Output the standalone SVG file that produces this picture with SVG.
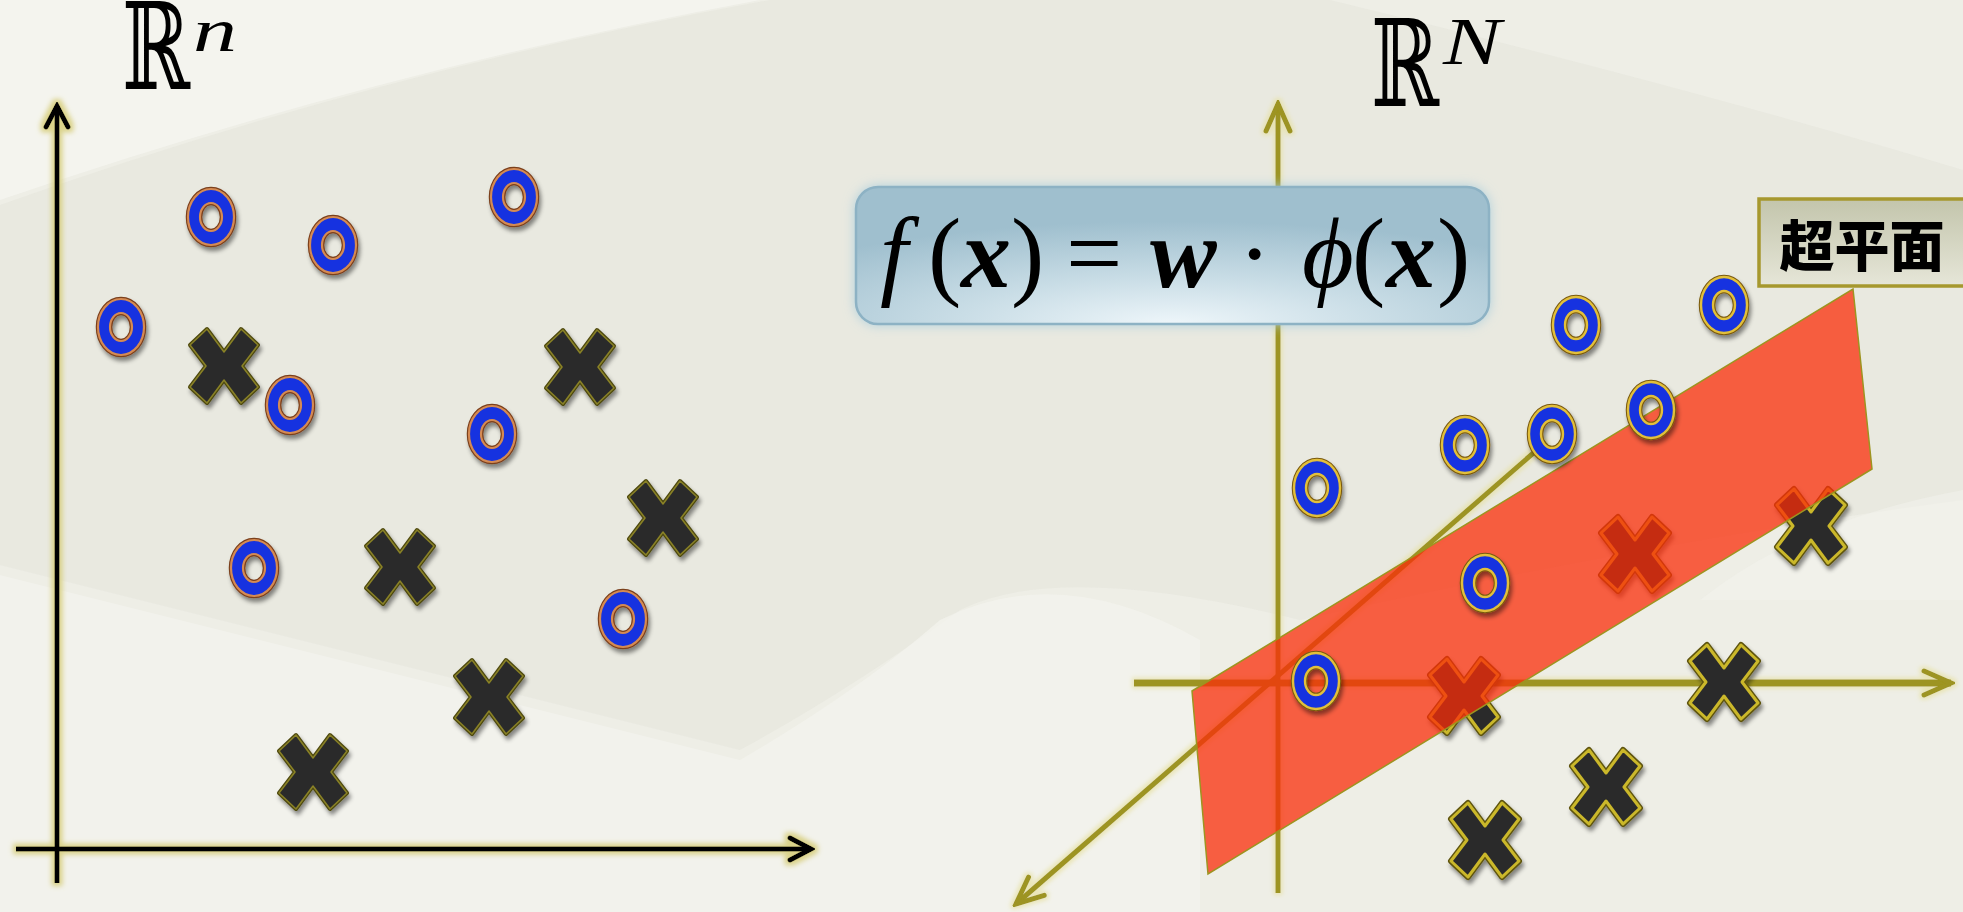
<svg xmlns="http://www.w3.org/2000/svg" xmlns:xlink="http://www.w3.org/1999/xlink" width="1963" height="912" viewBox="0 0 1963 912">
<style>
.math{font-family:"Liberation Serif","DejaVu Serif",serif;fill:#000}
.bb{font-family:"DejaVu Serif","DejaVu Sans",serif;fill:#000}
.lbl{font-family:"Noto Sans CJK SC","Noto Sans CJK JP",sans-serif;font-weight:900;fill:#000}
.axL{stroke:#000;stroke-width:5;fill:none}
.axR{stroke:#9d9420;fill:none}
</style>
<defs>
  <filter id="glowY" filterUnits="userSpaceOnUse" x="0" y="0" width="1963" height="912">
    <feMorphology in="SourceAlpha" operator="dilate" radius="3" result="d"/>
    <feGaussianBlur in="d" stdDeviation="2.5" result="b"/>
    <feFlood flood-color="#d6cd78" flood-opacity="0.85"/>
    <feComposite in2="b" operator="in" result="g"/>
    <feMerge><feMergeNode in="g"/><feMergeNode in="SourceGraphic"/></feMerge>
  </filter>
  <filter id="glowR" filterUnits="userSpaceOnUse" x="0" y="0" width="1963" height="912">
    <feMorphology in="SourceAlpha" operator="dilate" radius="2" result="d"/>
    <feGaussianBlur in="d" stdDeviation="2" result="b"/>
    <feFlood flood-color="#e6e0a0" flood-opacity="0.7"/>
    <feComposite in2="b" operator="in" result="g"/>
    <feMerge><feMergeNode in="g"/><feMergeNode in="SourceGraphic"/></feMerge>
  </filter>
  <filter id="shadow" x="-30%" y="-30%" width="170%" height="170%">
    <feDropShadow dx="2" dy="4" stdDeviation="2" flood-color="#000" flood-opacity="0.45"/>
  </filter>
  <filter id="boxglow" x="-10%" y="-20%" width="120%" height="140%">
    <feGaussianBlur in="SourceAlpha" stdDeviation="6" result="b"/>
    <feFlood flood-color="#a9cddd" flood-opacity="0.9"/>
    <feComposite in2="b" operator="in" result="g"/>
    <feMerge><feMergeNode in="g"/><feMergeNode in="SourceGraphic"/></feMerge>
  </filter>
  <radialGradient id="boxfill" cx="0.5" cy="1" r="0.75" fx="0.5" fy="1">
    <stop offset="0" stop-color="#eef6fa"/>
    <stop offset="0.45" stop-color="#c9dde6"/>
    <stop offset="1" stop-color="#9fbfce"/>
  </radialGradient>
  <linearGradient id="lblfill" x1="0" y1="0" x2="0" y2="1">
    <stop offset="0" stop-color="#c3c5ac"/>
    <stop offset="1" stop-color="#e6e6d8"/>
  </linearGradient>
  <marker id="arrK" markerUnits="userSpaceOnUse" viewBox="-26 -14 30 28" refX="0" refY="0" markerWidth="30" markerHeight="28" orient="auto">
    <path d="M -21 -11 L 0 0 L -21 11" fill="none" stroke="#000" stroke-width="5" stroke-linecap="round"/>
  </marker>
  <marker id="arrO" markerUnits="userSpaceOnUse" viewBox="-30 -15 34 30" refX="0" refY="0" markerWidth="34" markerHeight="30" orient="auto">
    <path d="M -27 -12 L 0 0 L -27 12" fill="none" stroke="#9d9420" stroke-width="5" stroke-linecap="round"/>
  </marker>
  <path id="xshape" d="M -34 -21 L -17 -37 L 0 -14 L 17 -37 L 34 -21 L 18 0 L 34 21 L 17 37 L 0 14 L -17 37 L -34 21 L -18 0 Z"/>
  <path id="ring" fill-rule="evenodd" d="M -23 0 A 23 28 0 1 0 23 0 A 23 28 0 1 0 -23 0 Z M -11 0 A 11 14 0 1 1 11 0 A 11 14 0 1 1 -11 0 Z"/>
  <g id="xL" filter="url(#shadow)">
    <use xlink:href="#xshape" fill="#2c2c2c" stroke="#4d4810" stroke-width="4" stroke-linejoin="round"/>
    <use xlink:href="#xshape" fill="#2c2c2c" stroke="#8a8226" stroke-width="1.5" stroke-linejoin="round"/>
  </g>
  <g id="xR" filter="url(#shadow)">
    <use xlink:href="#xshape" fill="#2c2c2c" stroke="#5e5410" stroke-width="6" stroke-linejoin="round"/>
    <use xlink:href="#xshape" fill="#2c2c2c" stroke="#cbb82c" stroke-width="3" stroke-linejoin="round"/>
  </g>
  <g id="oL" filter="url(#shadow)">
    <use xlink:href="#ring" fill="#1233e0" stroke="#7a3f1c" stroke-width="4.5"/>
    <use xlink:href="#ring" fill="#1233e0" stroke="#d58a52" stroke-width="2.2"/>
  </g>
  <g id="oR" filter="url(#shadow)">
    <use xlink:href="#ring" fill="#1233e0" stroke="#7a5a10" stroke-width="4.5"/>
    <use xlink:href="#ring" fill="#1233e0" stroke="#e2bf3a" stroke-width="2.4"/>
  </g>
</defs>

<g id="background">
  <rect width="1963" height="912" fill="#eeeee6"/>
  <path d="M 0 0 L 760 0 Q 380 70 0 200 Z" fill="#f5f5f0" opacity="0.8"/>
  <path d="M 0 205 Q 380 70 770 0 L 1330 0 Q 1700 90 1963 170 L 1963 500 Q 1660 540 1300 620 Q 1060 560 960 610 Q 850 690 740 750 L 0 565 Z" fill="#e2e2d7" opacity="0.4"/>
  <path d="M 0 575 L 740 760 Q 860 690 940 620 Q 1060 560 1200 640 L 1200 912 L 0 912 Z" fill="#f4f4ee" opacity="0.7"/>
  <path d="M 1963 490 Q 1800 520 1700 600 L 1963 600 Z" fill="#f4f4ee" opacity="0.5"/>
</g>

<g id="connectors">
  <g id="left-axes" filter="url(#glowY)">
    <line class="axL" x1="57" y1="883" x2="57" y2="106" marker-end="url(#arrK)"/>
    <line class="axL" x1="16" y1="849" x2="811" y2="849" marker-end="url(#arrK)"/>
  </g>
  <g id="right-axes" filter="url(#glowR)">
    <line class="axR" stroke-width="5" x1="1278" y1="893" x2="1278" y2="104" marker-end="url(#arrO)"/>
    <line class="axR" stroke-width="7" x1="1134" y1="683" x2="1951" y2="683" marker-end="url(#arrO)"/>
    <line class="axR" stroke-width="5" x1="1546" y1="442" x2="1016" y2="904" marker-end="url(#arrO)"/>
  </g>
</g>

<g id="left-points">
  <use id="oL1" xlink:href="#oL" x="211" y="217"/>
  <use id="oL2" xlink:href="#oL" x="333" y="245"/>
  <use id="oL3" xlink:href="#oL" x="514" y="197"/>
  <use id="oL4" xlink:href="#oL" x="121" y="327"/>
  <use id="oL5" xlink:href="#oL" x="290" y="405"/>
  <use id="oL6" xlink:href="#oL" x="492" y="434"/>
  <use id="oL7" xlink:href="#oL" x="254" y="568"/>
  <use id="oL8" xlink:href="#oL" x="623" y="619"/>
  <use id="xL1" xlink:href="#xL" x="224" y="366"/>
  <use id="xL2" xlink:href="#xL" x="580" y="367"/>
  <use id="xL3" xlink:href="#xL" x="663" y="518"/>
  <use id="xL4" xlink:href="#xL" x="400" y="567"/>
  <use id="xL5" xlink:href="#xL" x="489" y="697"/>
  <use id="xL6" xlink:href="#xL" x="313" y="772"/>
</g>

<g id="right-crosses">
  <use id="xR1" xlink:href="#xR" x="1811" y="526"/>
  <use id="xR2" xlink:href="#xR" x="1635" y="554"/>
  <use id="xR3" xlink:href="#xR" x="1464" y="696"/>
  <use id="xR4" xlink:href="#xR" x="1724" y="682"/>
  <use id="xR5" xlink:href="#xR" x="1606" y="787"/>
  <use id="xR6" xlink:href="#xR" x="1485" y="840"/>
</g>

<g id="hyperplane">
  <polygon points="1192,691 1853,289 1872,469 1208,874" fill="#fa2d0a" fill-opacity="0.75" stroke="#9d9420" stroke-width="1.5"/>
</g>

<g id="right-circles">
  <use id="oR1" xlink:href="#oR" x="1576" y="325"/>
  <use id="oR2" xlink:href="#oR" x="1724" y="305"/>
  <use id="oR3" xlink:href="#oR" x="1651" y="410"/>
  <use id="oR4" xlink:href="#oR" x="1552" y="434"/>
  <use id="oR5" xlink:href="#oR" x="1465" y="445"/>
  <use id="oR6" xlink:href="#oR" x="1317" y="488"/>
  <use id="oR7" xlink:href="#oR" x="1485" y="583"/>
  <use id="oR8" xlink:href="#oR" x="1316" y="681"/>
</g>

<g id="formula-box">
  <rect x="856" y="187" width="633" height="137" rx="22" ry="22" fill="url(#boxfill)" stroke="#8db2c4" stroke-width="2.5" filter="url(#boxglow)"/>
  <text class="math" y="287" font-size="100"><tspan x="880" font-style="italic">f</tspan><tspan x="928">(</tspan><tspan x="961" font-style="italic" font-weight="bold">x</tspan><tspan x="1011">)</tspan><tspan x="1066">=</tspan><tspan x="1150" font-style="italic" font-weight="bold">w</tspan><tspan x="1238">·</tspan><tspan x="1302" font-style="italic">ϕ</tspan><tspan x="1352">(</tspan><tspan x="1386" font-style="italic" font-weight="bold">x</tspan><tspan x="1437">)</tspan></text>
</g>

<g id="label-hyperplane">
  <rect x="1759" y="199" width="220" height="87" fill="url(#lblfill)" stroke="#a6982e" stroke-width="3.5"/>
  <text class="lbl" x="1862" y="266" font-size="55" text-anchor="middle">超平面</text>
</g>

<g id="title-left">
  <text class="bb" font-size="93" transform="translate(122,89) scale(0.88,1.3)">ℝ</text>
  <text class="math" x="193" y="51" font-size="62" font-style="italic" textLength="44" lengthAdjust="spacingAndGlyphs">n</text>
</g>
<g id="title-right">
  <text class="bb" font-size="93" transform="translate(1371,106) scale(0.88,1.3)">ℝ</text>
  <text class="math" x="1443" y="64" font-size="68" font-style="italic" textLength="58" lengthAdjust="spacingAndGlyphs">N</text>
</g>
</svg>
